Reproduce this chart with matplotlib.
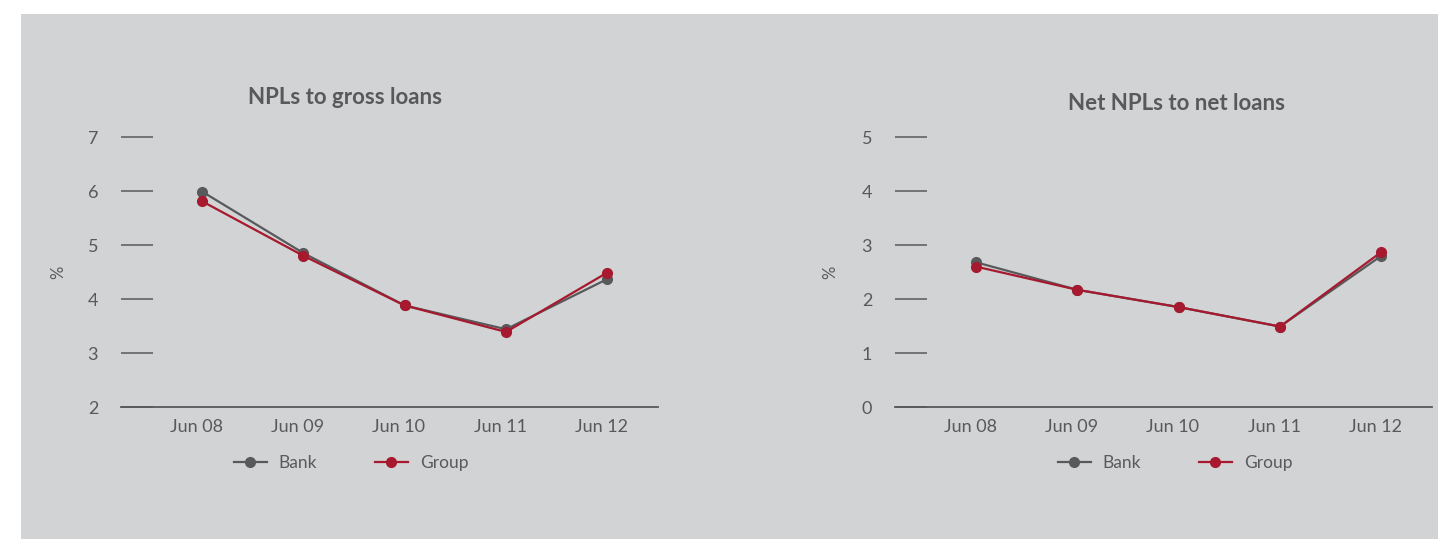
import matplotlib
matplotlib.use("Agg")
import matplotlib.pyplot as plt
import matplotlib.transforms as mtransforms
from matplotlib.patches import Rectangle

plt.rcParams['font.family'] = ['Lato', 'DejaVu Sans']

categories = ["Jun 08", "Jun 09", "Jun 10", "Jun 11", "Jun 12"]
npl_gross_bank = [5.99, 4.85, 3.88, 3.44, 4.37]
npl_gross_group = [5.81, 4.80, 3.88, 3.39, 4.49]
net_npl_bank = [2.68, 2.17, 1.85, 1.49, 2.80]
net_npl_group = [2.60, 2.17, 1.85, 1.49, 2.87]
left_yticks = [2, 3, 4, 5, 6, 7]
right_yticks = [0, 1, 2, 3, 4, 5]

BG = "#d1d3d4"
TXT = "#58595b"
BANK = "#58595b"
GROUP = "#a6192e"

W, H = 1438, 539
fig = plt.figure(figsize=(W / 100, H / 100), dpi=100)
fig.patch.set_facecolor("white")
fig.add_artist(Rectangle((21 / W, 0), 1 - 21 / W, 1 - 14 / H, transform=fig.transFigure,
                         facecolor=BG, edgecolor="none", zorder=0))


def px(x0, y0, w, h):
    return [x0 / W, 1 - (y0 + h) / H, w / W, h / H]


def make_panel(rect, bank, group, yticks, title, title_xy, pct_x, legend_xy):
    ax = fig.add_axes(rect)
    ax.set_facecolor("none")
    x = list(range(len(categories)))
    ax.plot(x, bank, color=BANK, lw=1.6, marker="o", ms=7, label="Bank", zorder=3)
    ax.plot(x, group, color=GROUP, lw=1.6, marker="o", ms=7, label="Group", zorder=4)
    ax.set_xlim(-0.8, 4.5)
    ax.set_ylim(yticks[0], yticks[-1])
    ax.set_yticks(yticks)
    ax.set_xticks(x)
    ax.set_xticklabels(categories)
    for s in ["top", "right", "left"]:
        ax.spines[s].set_visible(False)
    ax.spines["bottom"].set_color(TXT)
    ax.spines["bottom"].set_linewidth(1.3)
    ax.tick_params(axis="y", direction="in", length=23, width=1.1, color=TXT,
                   labelcolor=TXT, labelsize=13, pad=16.5)
    ax.tick_params(axis="x", length=0, labelcolor=TXT, labelsize=13, pad=9)
    off = mtransforms.ScaledTranslation(-6 / 100, 0, fig.dpi_scale_trans)
    for lab in ax.get_xticklabels():
        lab.set_transform(lab.get_transform() + off)
    fig.text(title_xy[0] / W, 1 - title_xy[1] / H, title, ha="center", va="center",
             fontsize=16, fontweight="bold", color=TXT)
    fig.text(pct_x / W, 1 - 272 / H, "%", rotation=90, ha="center", va="center",
             fontsize=12, color=TXT)
    ax.legend(loc="center", bbox_to_anchor=(legend_xy[0] / W, 1 - legend_xy[1] / H),
              bbox_transform=fig.transFigure, ncol=2, frameon=False, fontsize=12.5,
              handlelength=1.9, handletextpad=0.7, columnspacing=3.3, labelcolor=TXT)
    return ax


make_panel(px(121, 137, 537, 270), npl_gross_bank, npl_gross_group, left_yticks,
           "NPLs to gross loans", (345, 97), 58, (351, 463))
make_panel(px(895, 137, 537, 270), net_npl_bank, net_npl_group, right_yticks,
           "Net NPLs to net loans", (1176, 103), 830, (1175, 463))

fig.savefig("out.png", dpi=100, facecolor=fig.get_facecolor())
